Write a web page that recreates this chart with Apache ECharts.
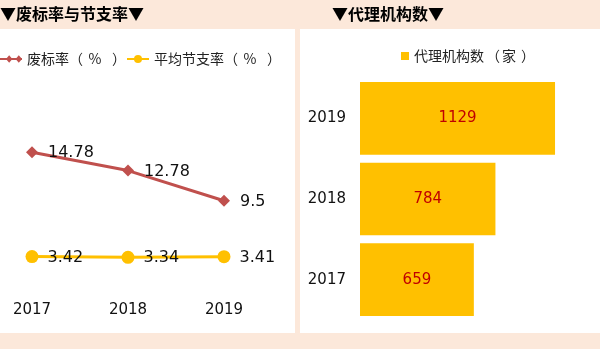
<!DOCTYPE html>
<html>
<head>
<meta charset="utf-8">
<script src="https://cdn.jsdelivr.net/npm/echarts@6/dist/echarts.min.js"></script>
<style>
html,body{margin:0;padding:0;background:#FCE8DA;}
#c{width:600px;height:349px;}
</style>
</head>
<body>
<div id="c"></div>
<script>
// Data
var lineYears = ['2017', '2018', '2019'];
var failRate = [14.78, 12.78, 9.5];        // 废标率（%）
var savingRate = [3.42, 3.34, 3.41];       // 平均节支率（%）
var barYears = ['2017', '2018', '2019'];
var agencyCount = [659, 784, 1129];        // 代理机构数（家）

var cjk = '"Noto Sans CJK SC", sans-serif';
var num = '"DejaVu Sans", Verdana, sans-serif';

function seg(extra) {
  var s = {fontFamily: cjk, fontSize: 14, color: '#222'};
  for (var k in extra) s[k] = extra[k];
  return s;
}
function legendFmt(name) {
  var i = name.indexOf('（');
  var head = name.slice(0, i);
  var mid = name.slice(i + 1, name.length - 1);
  return '{t|' + head + '}{o|（}{m|' + mid + '}{e|）}';
}

var chart = echarts.init(document.getElementById('c'), null, {renderer: 'canvas'});
chart.setOption({
  backgroundColor: '#FCE8DA',
  animation: false,
  graphic: [
    {type: 'rect', shape: {x: 0, y: 29, width: 295, height: 304}, style: {fill: '#ffffff'}, z: -10},
    {type: 'rect', shape: {x: 300, y: 29, width: 300, height: 304}, style: {fill: '#ffffff'}, z: -10}
  ],
  title: [
    {text: '▼废标率与节支率▼', left: 0, top: 6, padding: 0,
     textStyle: {fontFamily: cjk, fontSize: 16, fontWeight: 'bold', color: '#000'}},
    {text: '▼代理机构数▼', left: 332, top: 6, padding: 0,
     textStyle: {fontFamily: cjk, fontSize: 16, fontWeight: 'bold', color: '#000'}}
  ],
  legend: [
    {data: [
        {name: '废标率（%）', icon: 'path://M0,4 L24,4 L24,6 L0,6 Z M10,1 L13.5,5 L10,9 L6.5,5 Z M20.5,1 L24,5 L20.5,9 L17,5 Z'},
        {name: '平均节支率（%）'}
      ],
     left: 0, top: 52, padding: 0, itemGap: 0, itemWidth: 22, itemHeight: 10,
     formatter: legendFmt,
     textStyle: {fontFamily: cjk, fontSize: 14, color: '#222',
       rich: {
         t: seg({}),
         o: seg({width: 19, align: 'left'}),
         m: seg({width: 14, align: 'center'}),
         e: seg({width: 24, align: 'right'})
       }}},
    {data: ['代理机构数（家）'], left: 401, top: 49, padding: 0,
     itemWidth: 8, itemHeight: 8, icon: 'rect',
     formatter: legendFmt,
     textStyle: {fontFamily: cjk, fontSize: 14, color: '#222',
       rich: {
         t: seg({}),
         o: seg({width: 18, align: 'right'}),
         m: seg({width: 14, align: 'left'}),
         e: seg({width: 19, align: 'right'})
       }}}
  ],
  grid: [
    {left: 32, right: 376, top: 141, bottom: 61},
    {left: 360, right: 32.7, top: 78, bottom: 29}
  ],
  xAxis: [
    {type: 'category', gridIndex: 0, data: lineYears, boundaryGap: false,
     axisLine: {show: false}, axisTick: {show: false},
     axisLabel: {margin: 15, fontFamily: num, fontSize: 15, color: '#111'}},
    {type: 'value', gridIndex: 1, min: 0, max: 1200, show: false, splitLine: {show: false}}
  ],
  yAxis: [
    {type: 'value', gridIndex: 0, min: 0, max: 16, show: false, splitLine: {show: false}},
    {type: 'category', gridIndex: 1, data: barYears,
     axisLine: {show: false}, axisTick: {show: false},
     axisLabel: {margin: 14, fontFamily: num, fontSize: 15, color: '#111'}}
  ],
  series: [
    {name: '废标率（%）', type: 'line', xAxisIndex: 0, yAxisIndex: 0, data: failRate,
     symbol: 'diamond', symbolSize: 12,
     itemStyle: {color: '#C0504D'}, lineStyle: {color: '#C0504D', width: 3},
     label: {show: true, position: 'right', distance: 10, offset: [0, 1],
             fontFamily: num, fontSize: 16, color: '#111'}},
    {name: '平均节支率（%）', type: 'line', xAxisIndex: 0, yAxisIndex: 0, data: savingRate,
     symbol: 'circle', symbolSize: 13,
     itemStyle: {color: '#FFC000'}, lineStyle: {color: '#FFC000', width: 3},
     label: {show: true, position: 'right', distance: 9, offset: [0, 1],
             fontFamily: num, fontSize: 16, color: '#111'}},
    {name: '代理机构数（家）', type: 'bar', xAxisIndex: 1, yAxisIndex: 1, data: agencyCount,
     barCategoryGap: '10%',
     itemStyle: {color: '#FFC000'},
     label: {show: true, position: 'inside',
             fontFamily: num, fontSize: 15, color: '#C00000'}}
  ]
});
</script>
</body>
</html>
